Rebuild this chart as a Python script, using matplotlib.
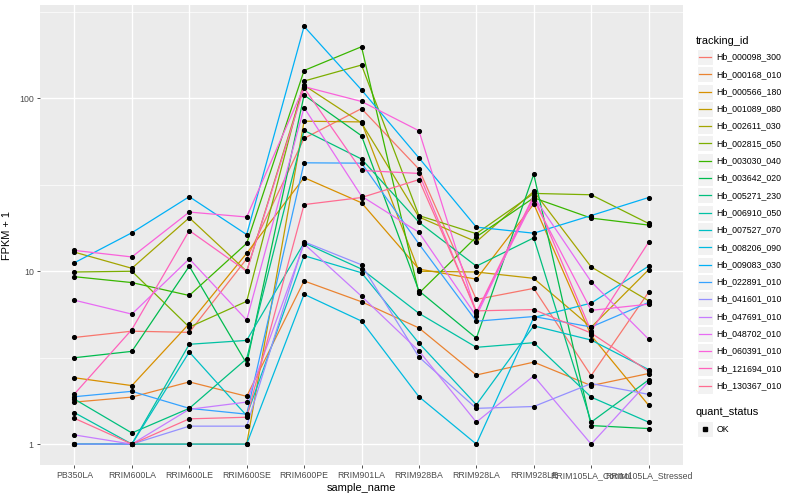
import matplotlib.pyplot as plt
import numpy as np
from matplotlib.lines import Line2D
from matplotlib.patches import Rectangle

plt.rcParams['font.family'] = ['Liberation Sans', 'DejaVu Sans']

samples = ['PB350LA', 'RRIM600LA', 'RRIM600LE', 'RRIM600SE', 'RRIM600PE', 'RRIM901LA',
           'RRIM928BA', 'RRIM928LA', 'RRIM928LE', 'RRIM105LA_Control', 'RRIM105LA_Stressed']

tracking_ids = ['Hb_000098_300', 'Hb_000168_010', 'Hb_000566_180', 'Hb_001089_080',
                'Hb_002611_030', 'Hb_002815_050', 'Hb_003030_040', 'Hb_003642_020',
                'Hb_005271_230', 'Hb_006910_050', 'Hb_007527_070', 'Hb_008206_090',
                'Hb_009083_030', 'Hb_022891_010', 'Hb_041601_010', 'Hb_047691_010',
                'Hb_048702_010', 'Hb_060391_010', 'Hb_121694_010', 'Hb_130367_010']

# ggplot hue palette, 20 levels
colors = ['#F8766D', '#EA8331', '#D89000', '#C09B00', '#A3A500', '#7CAE00', '#39B600',
          '#00BB4E', '#00BF7D', '#00C1A3', '#00BFC4', '#00BAE0', '#00B0F6', '#35A2FF',
          '#9590FF', '#C77CFF', '#E76BF3', '#FA62DB', '#FF62BC', '#FF6C91']

# FPKM + 1, one list per gene, in sample order
hb_000098_300 = [4.14, 4.5, 4.43, 11.8, 58.7, 87.3, 39, 6.87, 7.96, 2.49, 7.56]
hb_000168_010 = [1.75, 1.87, 2.29, 1.89, 8.79, 6.66, 4.7, 2.51, 2.98, 2.18, 2.56]
hb_000566_180 = [2.42, 2.18, 4.98, 12.7, 34.8, 24.9, 10.3, 9.0, 24.5, 4.25, 1.68]
hb_001089_080 = [1, 1, 1, 1, 73.8, 73.1, 10.0, 9.9, 9.1, 4.74, 10.2]
hb_002611_030 = [12.9, 10.4, 20.4, 10.0, 119, 72.1, 20.6, 14.8, 29, 10.6, 6.75]
hb_002815_050 = [9.9, 10.0, 4.75, 6.7, 126, 156, 21, 16.5, 28.2, 27.7, 18.9]
hb_003030_040 = [9.3, 8.6, 7.24, 14.5, 145, 199, 7.46, 15.8, 26.6, 20.3, 18.5]
hb_003642_020 = [3.16, 3.44, 10.7, 2.92, 104.5, 60.8, 7.7, 4.1, 36.4, 1.28, 1.23]
hb_005271_230 = [1.82, 1.16, 1.61, 3.12, 65.3, 44.6, 19.2, 10.7, 15.6, 1.34, 2.35]
hb_006910_050 = [1.52, 1, 3.78, 3.98, 14.6, 10.3, 5.71, 3.63, 3.86, 1.87, 1.34]
hb_007527_070 = [1, 1, 3.41, 1.46, 12.3, 9.8, 3.84, 1.69, 4.83, 4.0, 2.7]
hb_008206_090 = [1, 1, 1, 1, 7.36, 5.15, 1.88, 1, 5.4, 6.54, 10.7]
hb_009083_030 = [11.2, 16.7, 27, 16.3, 261, 112, 45.3, 18, 16.6, 21, 26.7]
hb_022891_010 = [1.88, 2.02, 1.61, 1.49, 42.4, 42.2, 14.4, 5.14, 5.47, 4.76, 6.6]
hb_041601_010 = [1, 1, 1.27, 1.27, 14.8, 10.9, 3.19, 1.61, 1.65, 2.24, 1.94]
hb_047691_010 = [1.13, 1, 1.59, 1.75, 14.4, 7.17, 3.46, 1.34, 2.48, 1, 2.3]
hb_048702_010 = [6.8, 5.65, 11.8, 5.22, 88.5, 27.2, 16.8, 5.5, 27.0, 8.7, 4.05]
hb_060391_010 = [13.2, 12.1, 22.0, 20.6, 117, 96, 65, 5.71, 25.9, 5.94, 6.45]
hb_121694_010 = [1.95, 4.6, 17.2, 10.0, 115, 38.3, 36.8, 5.78, 27.3, 4.5, 14.7]
hb_130367_010 = [1.41, 1, 1.40, 1.43, 24.3, 26.7, 33.9, 5.9, 6.0, 4.39, 2.64]

series = [hb_000098_300, hb_000168_010, hb_000566_180, hb_001089_080, hb_002611_030,
          hb_002815_050, hb_003030_040, hb_003642_020, hb_005271_230, hb_006910_050,
          hb_007527_070, hb_008206_090, hb_009083_030, hb_022891_010, hb_041601_010,
          hb_047691_010, hb_048702_010, hb_060391_010, hb_121694_010, hb_130367_010]

W, H = 800, 500
fig = plt.figure(figsize=(8, 5), dpi=100)
ax = fig.add_axes([40 / W, 1 - 465 / H, (683 - 40) / W, (465 - 5) / H])
ax.set_facecolor('#EBEBEB')
for s in ax.spines.values():
    s.set_visible(False)

x = np.arange(len(samples))
for vals, c in zip(series, colors):
    ax.plot(x, vals, color=c, lw=0.9, zorder=3)
for vals in series:
    ax.plot(x, vals, ls='none', marker='o', ms=2.7, color='black', zorder=4)

ax.set_yscale('log')
ax.set_ylim(0.757, 347)
ax.set_xlim(-0.6, len(samples) - 0.4)
ax.set_yticks([1, 10, 100])
ax.set_yticklabels(['1', '10', '100'])
ax.set_yticks([10 ** 0.5, 10 ** 1.5, 10 ** 2.5], minor=True)
ax.yaxis.set_minor_formatter(plt.NullFormatter())
ax.set_xticks(x)
ax.set_xticklabels(samples)
ax.grid(which='major', color='white', lw=1.0, zorder=1)
ax.grid(which='minor', axis='y', color='white', lw=0.5, zorder=1)
ax.set_axisbelow(True)
ax.tick_params(which='major', length=2.5, width=0.6, color='#333333',
               labelsize=6.3, labelcolor='#4D4D4D', pad=2)
ax.tick_params(which='minor', length=0)
ax.set_xlabel('sample_name', fontsize=7.9, labelpad=2)
ax.set_ylabel('FPKM + 1', fontsize=7.9)
ax.yaxis.set_label_coords((12 - 40) / (683 - 40), 0.5)

# legend drawn by hand, ggplot style
def fx(px):
    return px / W

def fy(py):
    return 1 - py / H

fig.text(fx(696), fy(40.5), 'tracking_id', fontsize=7.9, va='center', ha='left')
for i, (name, c) in enumerate(zip(tracking_ids, colors)):
    yc = 57 + i * 17.3
    fig.add_artist(Rectangle((fx(697), fy(yc + 8)), 16 / W, 16 / H,
                             transform=fig.transFigure, fc='#F2F2F2', ec='white', lw=0.8))
    fig.add_artist(Line2D([fx(699), fx(711)], [fy(yc), fy(yc)],
                          transform=fig.transFigure, color=c, lw=0.9))
    fig.text(fx(716.5), fy(yc), name, fontsize=6.3, va='center', ha='left')

fig.text(fx(696), fy(412), 'quant_status', fontsize=7.9, va='center', ha='left')
fig.add_artist(Rectangle((fx(697), fy(437)), 16 / W, 16 / H,
                         transform=fig.transFigure, fc='#F2F2F2', ec='white', lw=0.8))
fig.add_artist(Line2D([fx(705)], [fy(429)], transform=fig.transFigure,
                      ls='none', marker='s', ms=2.5, color='black'))
fig.text(fx(716.5), fy(429), 'OK', fontsize=6.3, va='center', ha='left')

fig.savefig('out.png', dpi=100)
